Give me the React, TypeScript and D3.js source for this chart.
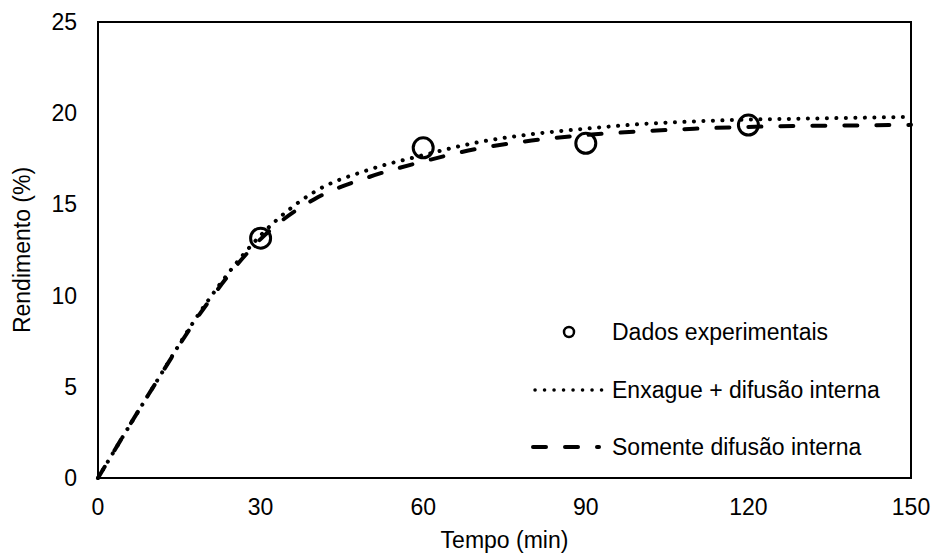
import React from "react";
import * as d3 from "d3";

// experimental points
const expTime = [30, 60, 90, 120];
const expYield = [13.15, 18.1, 18.35, 19.35];

// model curves, every 10 min
const modelTime = [0, 10, 20, 30, 40, 50, 60, 70, 80, 90, 100, 110, 120, 130, 140, 150];
const rinseDiff = [0, 4.9, 9.6, 13.3, 15.7, 16.9, 17.7, 18.4, 18.85, 19.15, 19.4, 19.55, 19.65, 19.7, 19.75, 19.8];
const diffOnly = [0, 4.9, 9.5, 13.1, 15.3, 16.5, 17.35, 18.05, 18.5, 18.8, 19.0, 19.15, 19.25, 19.3, 19.33, 19.36];

const xTicks = [0, 30, 60, 90, 120, 150];
const yTicks = [0, 5, 10, 15, 20, 25];

const legendItems = ["Dados experimentais", "Enxague + difusão interna", "Somente difusão interna"];

const W = 933;
const H = 556;
const left = 98, right = 911, top = 22, bottom = 478;
const font = "'Liberation Sans', Arial, sans-serif";
const FS = 23;

const DOTS = "0.1 9.4";
const DASHES = "13 19";

export default function App() {
  const x = d3.scaleLinear().domain([0, 150]).range([left, right]);
  const y = d3.scaleLinear().domain([0, 25]).range([bottom, top]);

  const line = d3.line<number>()
    .x((_, i) => x(modelTime[i]))
    .y(d => y(d))
    .curve(d3.curveMonotoneX);

  return (
    <svg width={W} height={H} style={{ position: "absolute", left: 0, top: 0, background: "#fff" }}
      fontFamily={font}>
      <rect x={0} y={0} width={W} height={H} fill="#fff" />

      {/* curves */}
      <path d={line(rinseDiff) || ""} fill="none" stroke="#000" strokeWidth={4}
        strokeDasharray={DOTS} strokeLinecap="round" />
      <path d={line(diffOnly) || ""} fill="none" stroke="#000" strokeWidth={4}
        strokeDasharray={DASHES} strokeLinecap="round" />

      {/* experimental data */}
      {expTime.map((t, i) => (
        <circle key={t} cx={x(t)} cy={y(expYield[i])} r={10} fill="none" stroke="#000" strokeWidth={3} />
      ))}

      {/* frame */}
      <rect x={left} y={top} width={right - left} height={bottom - top} fill="none" stroke="#000" strokeWidth={2} />

      {/* tick labels */}
      {yTicks.map(v => (
        <text key={"y" + v} x={77} y={y(v)} dy="0.35em" textAnchor="end" fontSize={FS} fill="#000">{v}</text>
      ))}
      {xTicks.map(v => (
        <text key={"x" + v} x={x(v)} y={515} textAnchor="middle" fontSize={FS} fill="#000">{v}</text>
      ))}

      {/* axis titles */}
      <text x={(left + right) / 2} y={548} textAnchor="middle" fontSize={FS} fill="#000">Tempo (min)</text>
      <text transform={`translate(30,${(top + bottom) / 2}) rotate(-90)`} textAnchor="middle" fontSize={FS} fill="#000">
        Rendimento (%)
      </text>

      {/* legend */}
      <circle cx={569} cy={332} r={5} fill="none" stroke="#000" strokeWidth={2.5} />
      <line x1={535} x2={602} y1={390} y2={390} stroke="#000" strokeWidth={3.5}
        strokeDasharray={DOTS} strokeLinecap="round" />
      <line x1={533} x2={599} y1={447} y2={447} stroke="#000" strokeWidth={4}
        strokeDasharray={DASHES} strokeLinecap="round" />
      {legendItems.map((s, i) => (
        <text key={s} x={612} y={[332, 390, 447][i]} dy="0.35em" fontSize={FS} fill="#000">{s}</text>
      ))}
    </svg>
  );
}
